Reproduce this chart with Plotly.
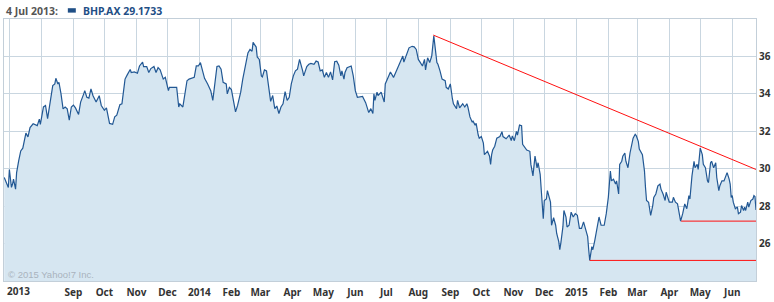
import plotly.graph_objects as go

# ---------------- data ----------------
dates = [
    "2013-06-26","2013-06-30","2013-07-01","2013-07-03","2013-07-04","2013-07-05","2013-07-07","2013-07-08",
    "2013-07-10","2013-07-12","2013-07-14","2013-07-17","2013-07-19","2013-07-21","2013-07-24","2013-07-26",
    "2013-07-28","2013-07-30","2013-07-31","2013-08-03","2013-08-05","2013-08-07","2013-08-09","2013-08-12",
    "2013-08-14","2013-08-15","2013-08-17","2013-08-18","2013-08-20","2013-08-22","2013-08-24","2013-08-26",
    "2013-08-28","2013-08-30","2013-09-01","2013-09-03","2013-09-06","2013-09-08","2013-09-11","2013-09-12",
    "2013-09-14","2013-09-16","2013-09-18","2013-09-20","2013-09-23","2013-09-26","2013-09-28","2013-10-01",
    "2013-10-03","2013-10-06","2013-10-09","2013-10-11","2013-10-13","2013-10-16","2013-10-18","2013-10-21",
    "2013-10-23","2013-10-26","2013-10-27","2013-10-30","2013-11-02","2013-11-04","2013-11-07","2013-11-08",
    "2013-11-11","2013-11-13","2013-11-15","2013-11-18","2013-11-20","2013-11-22","2013-11-24","2013-11-27",
    "2013-11-29","2013-12-02","2013-12-03","2013-12-05","2013-12-08","2013-12-10","2013-12-12","2013-12-13",
    "2013-12-16","2013-12-18","2013-12-20","2013-12-22","2013-12-25","2013-12-27","2013-12-29","2013-12-31",
    "2014-01-02","2014-01-04","2014-01-06","2014-01-09","2014-01-12","2014-01-14","2014-01-16","2014-01-18",
    "2014-01-20","2014-01-22","2014-01-24","2014-01-27","2014-01-28","2014-01-30","2014-02-01","2014-02-04",
    "2014-02-05","2014-02-07","2014-02-10","2014-02-12","2014-02-14","2014-02-17","2014-02-19","2014-02-21",
    "2014-02-22","2014-02-25","2014-02-26","2014-02-28","2014-03-01","2014-03-02","2014-03-03","2014-03-05",
    "2014-03-07","2014-03-10","2014-03-11","2014-03-13","2014-03-15","2014-03-17","2014-03-19","2014-03-21",
    "2014-03-23","2014-03-25","2014-03-27","2014-03-29","2014-03-31","2014-04-02","2014-04-04","2014-04-06",
    "2014-04-08","2014-04-11","2014-04-12","2014-04-15","2014-04-17","2014-04-19","2014-04-22","2014-04-24",
    "2014-04-26","2014-04-28","2014-04-30","2014-05-02","2014-05-04","2014-05-06","2014-05-08","2014-05-10",
    "2014-05-12","2014-05-14","2014-05-16","2014-05-18","2014-05-19","2014-05-21","2014-05-22","2014-05-24",
    "2014-05-26","2014-05-28","2014-05-30","2014-06-01","2014-06-03","2014-06-05","2014-06-08","2014-06-11",
    "2014-06-13","2014-06-14","2014-06-16","2014-06-18","2014-06-19","2014-06-20","2014-06-22","2014-06-23",
    "2014-06-26","2014-06-27","2014-06-29","2014-06-30","2014-07-03","2014-07-05","2014-07-08","2014-07-10",
    "2014-07-13","2014-07-15","2014-07-17","2014-07-18","2014-07-21","2014-07-23","2014-07-26","2014-07-28",
    "2014-07-30","2014-08-01","2014-08-03","2014-08-05","2014-08-07","2014-08-08","2014-08-10","2014-08-12",
    "2014-08-14","2014-08-15","2014-08-16","2014-08-19","2014-08-20","2014-08-22","2014-08-24","2014-08-27",
    "2014-08-28","2014-08-30","2014-09-01","2014-09-03","2014-09-04","2014-09-07","2014-09-08","2014-09-10",
    "2014-09-13","2014-09-15","2014-09-17","2014-09-18","2014-09-20","2014-09-22","2014-09-23","2014-09-25",
    "2014-09-26","2014-09-28","2014-09-29","2014-10-01","2014-10-03","2014-10-04","2014-10-07","2014-10-09",
    "2014-10-10","2014-10-11","2014-10-12","2014-10-14","2014-10-16","2014-10-19","2014-10-21","2014-10-22",
    "2014-10-25","2014-10-28","2014-10-30","2014-10-31","2014-11-02","2014-11-04","2014-11-05","2014-11-07",
    "2014-11-09","2014-11-10","2014-11-14","2014-11-17","2014-11-18","2014-11-20","2014-11-21","2014-11-22",
    "2014-11-24","2014-11-25","2014-11-27","2014-11-28","2014-11-30","2014-12-01","2014-12-03","2014-12-04",
    "2014-12-07","2014-12-08","2014-12-10","2014-12-12","2014-12-13","2014-12-15","2014-12-16","2014-12-17",
    "2014-12-19","2014-12-20","2014-12-22","2014-12-23","2014-12-25","2014-12-27","2014-12-29","2014-12-31",
    "2015-01-02","2015-01-04","2015-01-06","2015-01-08","2015-01-10","2015-01-12","2015-01-13","2015-01-14",
    "2015-01-16","2015-01-17","2015-01-19","2015-01-21","2015-01-23","2015-01-25","2015-01-28","2015-01-30",
    "2015-02-01","2015-02-03","2015-02-04","2015-02-06","2015-02-08","2015-02-09","2015-02-11","2015-02-12",
    "2015-02-14","2015-02-15","2015-02-17","2015-02-18","2015-02-20","2015-02-22","2015-02-23","2015-02-25",
    "2015-02-27","2015-02-28","2015-03-02","2015-03-03","2015-03-06","2015-03-08","2015-03-09","2015-03-10",
    "2015-03-12","2015-03-13","2015-03-14","2015-03-16","2015-03-17","2015-03-19","2015-03-21","2015-03-23",
    "2015-03-24","2015-03-26","2015-03-28","2015-03-29","2015-03-31","2015-04-01","2015-04-04","2015-04-05",
    "2015-04-07","2015-04-09","2015-04-11","2015-04-12","2015-04-14","2015-04-16","2015-04-18","2015-04-20",
    "2015-04-21","2015-04-23","2015-04-25","2015-04-26","2015-04-28","2015-04-29","2015-05-01","2015-05-03",
    "2015-05-04","2015-05-06","2015-05-08","2015-05-09","2015-05-11","2015-05-12","2015-05-14","2015-05-16",
    "2015-05-17","2015-05-19","2015-05-20","2015-05-22","2015-05-24","2015-05-25","2015-05-27","2015-05-29",
    "2015-05-30","2015-05-31","2015-06-01","2015-06-02","2015-06-04","2015-06-06","2015-06-07","2015-06-09",
    "2015-06-10","2015-06-12","2015-06-13","2015-06-14","2015-06-16","2015-06-17","2015-06-19","2015-06-21",
    "2015-06-22","2015-06-23","2015-06-24",
]

close = [
    29.53,29.0,29.96,29.0,29.17,29.44,28.91,29.79,
    30.42,30.95,31.1,31.9,31.7,32.2,32.4,32.33,
    32.3,32.65,32.37,33.3,33.38,32.68,33.38,34.44,
    34.53,34.83,34.53,34.62,34.0,33.2,33.3,33.2,
    32.6,33.3,33.4,33.25,32.9,33.56,34.0,34.17,
    33.82,33.77,34.26,33.9,33.56,33.9,33.38,33.12,
    33.25,32.42,32.37,32.77,32.86,33.42,33.47,34.79,
    35.0,35.3,35.14,35.17,35.1,35.49,35.7,35.46,
    35.46,35.14,35.35,35.46,35.14,35.4,35.28,34.79,
    34.88,34.17,34.35,34.35,34.38,34.35,33.3,33.47,
    33.3,33.91,34.7,34.79,34.83,34.88,35.49,35.49,
    35.67,35.23,34.83,34.53,34.17,33.65,34.62,35.46,
    35.49,35.32,34.62,34.53,34.0,34.35,34.23,33.3,
    33.04,33.38,34.09,34.79,35.32,36.19,36.37,36.28,
    36.75,36.5,35.97,35.84,35.4,34.96,34.91,35.28,
    35.23,33.74,33.6,33.91,33.21,33.35,32.95,33.3,
    33.47,34.12,33.65,33.82,34.53,34.96,35.23,35.32,
    35.84,35.23,34.96,35.46,35.58,35.63,35.58,35.75,
    35.7,35.23,35.28,34.88,35.14,34.88,35.17,34.75,
    35.72,35.75,35.53,34.96,35.23,34.79,35.14,35.4,
    35.46,35.49,34.96,34.17,33.82,33.82,33.86,33.53,
    33.21,33.0,33.21,32.95,34.0,33.65,34.09,33.91,
    34.09,33.91,33.56,34.53,34.96,35.17,34.88,35.14,
    35.46,35.75,36.02,35.7,36.11,36.46,36.54,36.51,
    36.37,35.84,35.67,35.49,35.84,35.28,35.93,35.67,
    36.02,36.54,37.1,35.67,35.58,35.23,34.79,34.7,
    34.35,34.26,34.53,33.74,33.47,33.21,33.65,33.25,
    33.47,33.3,33.47,33.3,32.77,32.51,32.54,32.33,
    32.42,31.8,31.63,31.72,31.37,30.75,30.93,30.67,
    30.23,30.75,31.0,31.2,31.63,31.72,31.98,31.72,
    31.6,31.8,31.5,31.75,31.5,32.0,31.8,32.33,
    32.3,31.3,31.0,30.93,30.23,29.62,30.05,30.67,
    30.05,30.32,29.7,28.83,27.33,28.3,28.38,28.83,
    28.21,26.98,27.38,26.98,26.54,26.1,25.67,26.02,
    26.89,27.77,27.42,26.89,26.98,27.68,27.42,27.6,
    27.51,26.81,26.81,27.16,26.72,26.37,25.67,25.1,
    25.84,25.67,26.2,26.89,27.42,26.98,26.98,27.6,
    28.47,29.88,29.35,29.44,29.18,29.35,28.65,30.23,
    30.4,30.67,30.84,30.4,30.05,30.84,31.1,31.63,
    31.84,31.77,31.46,31.05,30.75,29.88,29.0,28.3,
    28.21,27.86,27.51,28.03,28.47,28.65,29.09,29.18,
    28.91,28.65,28.3,28.74,28.3,28.21,28.21,28.47,
    28.21,28.12,27.51,27.2,27.6,28.12,27.86,28.56,
    28.38,29.62,30.4,30.05,30.23,29.96,31.1,30.75,
    30.23,30.05,29.35,29.26,30.32,30.4,30.05,30.32,
    29.53,28.83,29.09,29.35,29.35,29.53,29.79,29.44,
    29.18,28.47,28.56,28.21,27.86,27.95,27.6,27.68,
    28.03,27.77,27.95,27.77,28.21,27.95,28.3,28.38,
    28.56,28.51,27.8,
]

# user-drawn trend lines (start, end)
trend_x = [["2014-08-15 12:00", "2015-06-24"],
           ["2015-04-12 12:00", "2015-06-24"],
           ["2015-01-14 00:00", "2015-06-24"]]
trend_y = [[37.14, 29.96],
           [27.2, 27.2],
           [25.1, 25.1]]

month_ticks = ["2013-07-01","2013-08-01","2013-09-01","2013-10-01","2013-11-01","2013-12-01",
               "2014-01-01","2014-02-01","2014-03-01","2014-04-01","2014-05-01","2014-06-01",
               "2014-07-01","2014-08-01","2014-09-01","2014-10-01","2014-11-01","2014-12-01",
               "2015-01-01","2015-02-01","2015-03-01","2015-04-01","2015-05-01","2015-06-01"]
month_labels = ["","","Sep","Oct","Nov","Dec",
                "2014","Feb","Mar","Apr","May","Jun",
                "Jul","Aug","Sep","Oct","Nov","Dec",
                "2015","Feb","Mar","Apr","May","Jun"]
y_ticks = [26, 28, 30, 32, 34, 36]
x_range = ["2013-06-25 19:00", "2015-06-24 00:00"]
y_range = [24, 38]

legend_date = "4 Jul 2013:"
legend_series = "BHP.AX 29.1733"
first_year_label = "2013"
watermark = "\u00a9 2015 Yahoo!7 Inc."

# ---------------- style ----------------
LINE = "#225894"
FILL = "#d6e6f1"
GRID = "#c9d6e0"
BORDER = "#c3cfd9"
TXT = "#333333"
RED = "#ff1010"
FONT = "Noto Sans"

W, H = 774, 302
ML, MR, MT, MB = 3, 17, 19, 16
PW, PH = W - ML - MR, H - MT - MB


def px_x(px):
    return (px - ML) / PW


def px_y(py):
    return (H - MB - py) / PH


fig = go.Figure()
fig.add_trace(go.Scatter(x=dates, y=close, mode="lines",
                         line=dict(color=LINE, width=1.2),
                         fill="tozeroy", fillcolor=FILL,
                         hoverinfo="skip", showlegend=False))
for tx, ty in zip(trend_x, trend_y):
    fig.add_trace(go.Scatter(x=tx, y=ty, mode="lines",
                             line=dict(color=RED, width=1),
                             hoverinfo="skip", showlegend=False))

fig.update_layout(
    width=W, height=H,
    margin=dict(l=ML, r=MR, t=MT, b=MB),
    paper_bgcolor="white", plot_bgcolor="white",
    xaxis=dict(range=x_range, tickmode="array", tickvals=month_ticks, ticktext=month_labels,
               showgrid=True, gridcolor=GRID, gridwidth=1, zeroline=False,
               showline=True, mirror=True, linecolor=BORDER, linewidth=1, ticks="",
               ticklabelstandoff=2,
               tickfont=dict(family=FONT, size=10, color=TXT, weight="bold")),
    yaxis=dict(range=y_range, side="right", tickmode="array", tickvals=y_ticks,
               showgrid=True, gridcolor=GRID, gridwidth=1, zeroline=False,
               showline=True, mirror=True, linecolor=BORDER, linewidth=1, ticks="",
               tickfont=dict(family=FONT, size=10, color=TXT, weight="bold")),
    annotations=[
        dict(text=first_year_label, xref="paper", yref="paper", x=px_x(4), y=px_y(296),
             xanchor="left", yanchor="middle", showarrow=False,
             font=dict(family=FONT, size=10, color=TXT, weight="bold")),
        dict(text=watermark, xref="paper", yref="paper", x=px_x(5), y=px_y(279),
             xanchor="left", yanchor="middle", showarrow=False,
             font=dict(family="Liberation Sans", size=9.5, color="#a9b3bd")),
        dict(text=legend_date, xref="paper", yref="paper", x=px_x(3), y=px_y(11),
             xanchor="left", yanchor="middle", showarrow=False,
             font=dict(family=FONT, size=10.5, color="#555555", weight="bold")),
        dict(text=legend_series, xref="paper", yref="paper", x=px_x(80), y=px_y(11),
             xanchor="left", yanchor="middle", showarrow=False,
             font=dict(family=FONT, size=10.5, color="#1f4f86", weight="bold")),
    ],
    shapes=[dict(type="rect", xref="paper", yref="paper",
                 x0=px_x(67), x1=px_x(75), y0=px_y(12.5), y1=px_y(8),
                 fillcolor="#1f4f86", line=dict(width=0))],
)

fig.write_html("out.html", config={"displayModeBar": False})
